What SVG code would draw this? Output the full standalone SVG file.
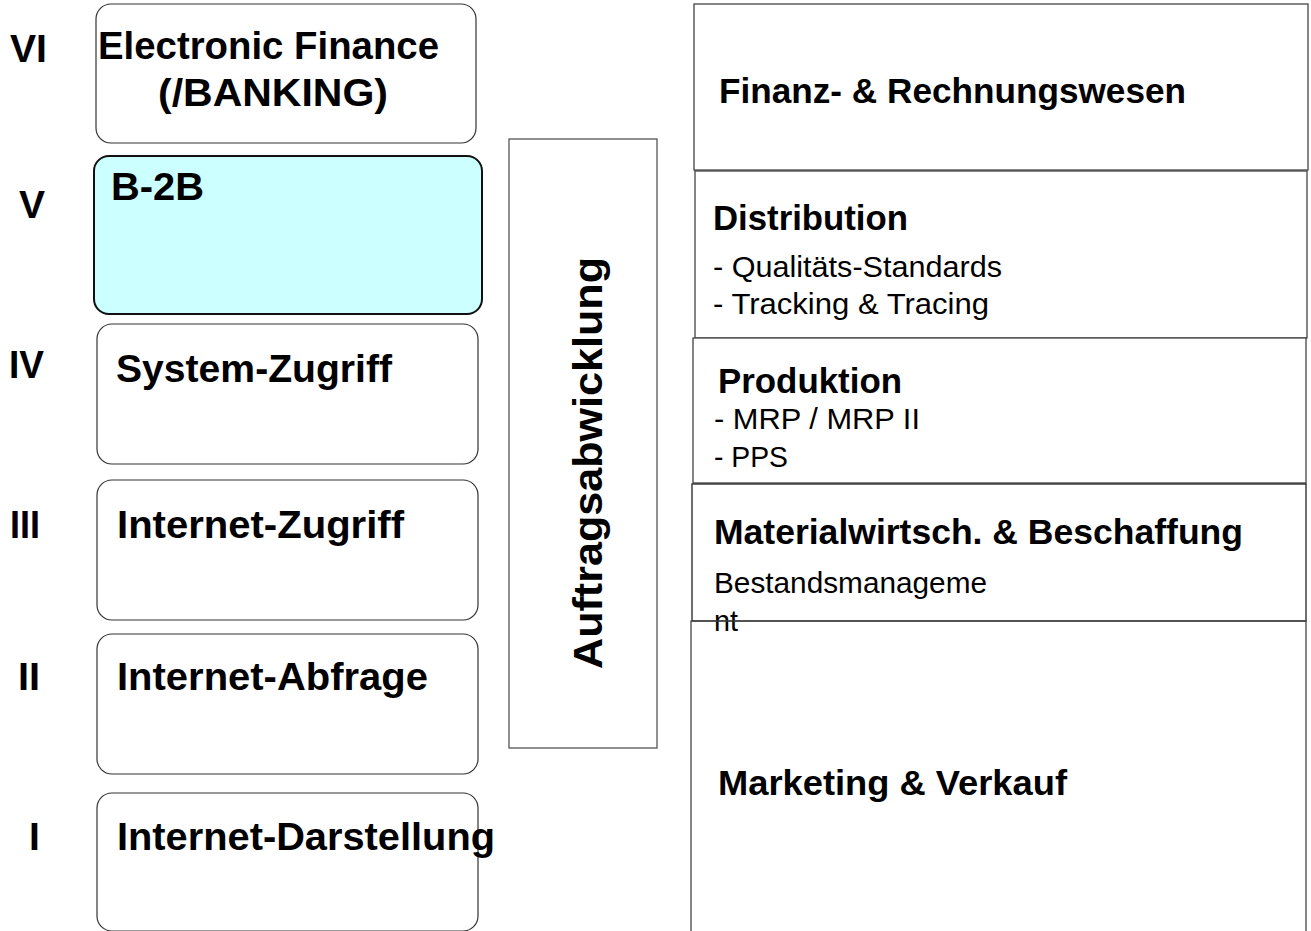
<svg xmlns="http://www.w3.org/2000/svg" width="1311" height="931" viewBox="0 0 1311 931">
<style>
text{font-family:"Liberation Sans",Arial,sans-serif;fill:#000}
.num{font-size:39px;font-weight:bold}
.lbl{font-size:38px;font-weight:bold}
.hd{font-size:35px;font-weight:bold}
.tx{font-size:29px}
.rb{fill:#fff;stroke:#333;stroke-width:1.2}
.sq{fill:#fff;stroke:#444;stroke-width:1.3}
</style>
<rect x="0" y="0" width="1311" height="931" fill="#fff"/>
<g id="level-6">
<rect class="rb" x="96" y="4" width="380" height="139" rx="15"/>
<text class="num" x="10" y="62" textLength="37" lengthAdjust="spacingAndGlyphs">VI</text>
<text class="lbl" x="98" y="59" textLength="341" lengthAdjust="spacingAndGlyphs">Electronic Finance</text>
<text class="lbl" x="158" y="106" textLength="230" lengthAdjust="spacingAndGlyphs">(/BANKING)</text>
</g>
<g id="level-5">
<rect x="94" y="156" width="388" height="158" rx="15" fill="#ccffff" stroke="#111" stroke-width="2"/>
<text class="num" x="19" y="218">V</text>
<text class="lbl" x="111" y="200" textLength="93" lengthAdjust="spacingAndGlyphs">B-2B</text>
</g>
<g id="level-4">
<rect class="rb" x="97" y="324" width="381" height="140" rx="15"/>
<text class="num" x="9" y="378" textLength="35" lengthAdjust="spacingAndGlyphs">IV</text>
<text class="lbl" x="116" y="382" textLength="276" lengthAdjust="spacingAndGlyphs">System-Zugriff</text>
</g>
<g id="level-3">
<rect class="rb" x="97" y="480" width="381" height="140" rx="15"/>
<text class="num" x="10" y="538" textLength="30" lengthAdjust="spacingAndGlyphs">III</text>
<text class="lbl" x="117" y="538" textLength="287" lengthAdjust="spacingAndGlyphs">Internet-Zugriff</text>
</g>
<g id="level-2">
<rect class="rb" x="97" y="634" width="381" height="140" rx="15"/>
<text class="num" x="18" y="690" textLength="22" lengthAdjust="spacingAndGlyphs">II</text>
<text class="lbl" x="117" y="690" textLength="311" lengthAdjust="spacingAndGlyphs">Internet-Abfrage</text>
</g>
<g id="level-1">
<rect class="rb" x="97" y="793" width="381" height="138" rx="15"/>
<text class="num" x="29" y="850">I</text>
<text class="lbl" x="117" y="850" textLength="378" lengthAdjust="spacingAndGlyphs">Internet-Darstellung</text>
</g>
<g id="auftragsabwicklung">
<rect x="509" y="139" width="148" height="609" fill="#fff" stroke="#555" stroke-width="1.3"/>
<text transform="translate(602,669) rotate(-90)" x="0" y="0" font-size="41" font-weight="bold" textLength="412" lengthAdjust="spacingAndGlyphs">Auftragsabwicklung</text>
</g>
<g id="finanz">
<rect class="sq" x="694" y="4" width="614" height="166"/>
<text class="hd" x="719" y="103" textLength="467" lengthAdjust="spacingAndGlyphs">Finanz- &amp; Rechnungswesen</text>
</g>
<g id="distribution">
<rect class="sq" x="695" y="171" width="612" height="167"/>
<text class="hd" x="713" y="230" textLength="195" lengthAdjust="spacingAndGlyphs">Distribution</text>
<text class="tx" x="713" y="277" textLength="289" lengthAdjust="spacingAndGlyphs">- Qualitäts-Standards</text>
<text class="tx" x="713" y="314" textLength="276" lengthAdjust="spacingAndGlyphs">- Tracking &amp; Tracing</text>
</g>
<g id="produktion">
<rect class="sq" x="693" y="338" width="613" height="145"/>
<text class="hd" x="718" y="393" textLength="184" lengthAdjust="spacingAndGlyphs">Produktion</text>
<text class="tx" x="714" y="429" textLength="206" lengthAdjust="spacingAndGlyphs">- MRP / MRP II</text>
<text class="tx" x="714" y="467" textLength="74" lengthAdjust="spacingAndGlyphs">- PPS</text>
</g>
<g id="materialwirtschaft">
<rect x="692" y="484" width="614" height="137" fill="#fff" stroke="#222" stroke-width="1.3"/>
<text class="hd" x="714" y="544" textLength="529" lengthAdjust="spacingAndGlyphs">Materialwirtsch. &amp; Beschaffung</text>
<text class="tx" x="714" y="593" textLength="273" lengthAdjust="spacingAndGlyphs">Bestandsmanageme</text>
<text class="tx" x="714" y="631" textLength="24" lengthAdjust="spacingAndGlyphs">nt</text>
</g>
<g id="marketing">
<rect x="691" y="621" width="615" height="320" fill="none" stroke="#444" stroke-width="1.3"/>
<text class="hd" x="718" y="795" textLength="349" lengthAdjust="spacingAndGlyphs">Marketing &amp; Verkauf</text>
</g>
<g id="connectors"/>
</svg>
